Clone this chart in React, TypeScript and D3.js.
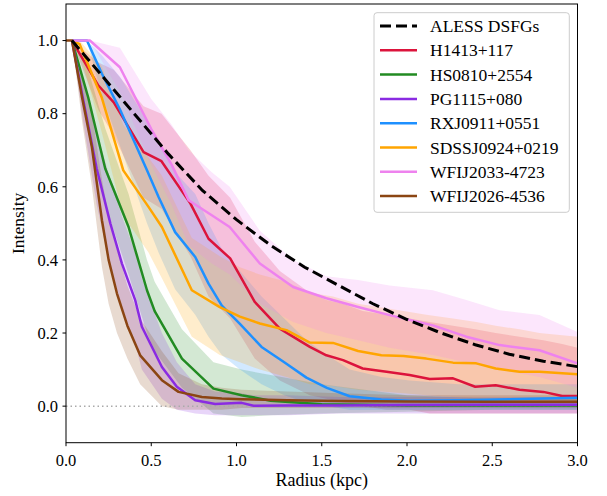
import React from "react";
import * as d3 from "d3";

const W = 607;
const H = 496;

const xTicks = [0, 0.5, 1.0, 1.5, 2.0, 2.5, 3.0];
const yTicks = [0, 0.2, 0.4, 0.6, 0.8, 1.0];

// ALESS DSFGs (stacked profile, dashed)
const alessX = [0.035, 0.2, 0.4, 0.6, 0.8, 1.0, 1.2, 1.4, 1.6, 1.8, 2.0, 2.2, 2.4, 2.6, 2.8, 3.0];
const alessY = [1.0, 0.91, 0.8, 0.69, 0.59, 0.51, 0.44, 0.38, 0.33, 0.28, 0.237, 0.2, 0.168, 0.142, 0.123, 0.108];

// H1413+117
const h1413X = [0.035, 0.19, 0.28, 0.455, 0.56, 0.73, 0.836, 0.963, 1.107, 1.254, 1.43, 1.527, 1.625, 1.74, 1.88, 2.015, 2.133, 2.27, 2.4, 2.52, 2.66, 2.8, 2.91, 3.0];
const h1413Y = [1.0, 0.877, 0.831, 0.695, 0.67, 0.554, 0.458, 0.404, 0.285, 0.212, 0.162, 0.139, 0.126, 0.103, 0.094, 0.085, 0.074, 0.076, 0.053, 0.057, 0.045, 0.039, 0.028, 0.028];
const h1413Hi = [1.0, 0.94, 0.92, 0.82, 0.8, 0.7, 0.63, 0.57, 0.45, 0.37, 0.31, 0.29, 0.28, 0.26, 0.25, 0.24, 0.23, 0.22, 0.21, 0.2, 0.19, 0.18, 0.17, 0.16];
const h1413Lo = [1.0, 0.81, 0.74, 0.57, 0.54, 0.41, 0.3, 0.24, 0.13, 0.07, 0.03, 0.02, 0.01, 0.0, -0.01, -0.01, -0.02, -0.02, -0.02, -0.02, -0.02, -0.02, -0.02, -0.02];

// HS0810+2554
const hs0810X = [0.035, 0.13, 0.23, 0.367, 0.475, 0.52, 0.68, 0.865, 1.03, 1.2, 1.5, 2.0, 2.5, 3.0];
const hs0810Y = [1.0, 0.845, 0.65, 0.49, 0.317, 0.26, 0.13, 0.048, 0.03, 0.015, 0.005, 0.002, 0.002, 0.002];
const hs0810Hi = [1.0, 0.92, 0.76, 0.58, 0.4, 0.34, 0.21, 0.12, 0.1, 0.085, 0.06, 0.03, 0.02, 0.02];
const hs0810Lo = [1.0, 0.78, 0.55, 0.36, 0.2, 0.15, 0.05, -0.02, -0.03, -0.025, -0.02, -0.015, -0.01, -0.01];

// PG1115+080
const pg1115X = [0.035, 0.1, 0.18, 0.26, 0.328, 0.406, 0.445, 0.5625, 0.65, 0.758, 0.875, 1.03, 1.1, 1.3, 1.6, 2.0, 2.5, 3.0];
const pg1115Y = [1.0, 0.84, 0.65, 0.5, 0.39, 0.29, 0.217, 0.107, 0.053, 0.016, 0.006, 0.009, 0.001, 0.002, 0.002, 0.003, 0.004, 0.004];
const pg1115Hi = [1.0, 0.9, 0.75, 0.62, 0.52, 0.42, 0.35, 0.2, 0.12, 0.06, 0.04, 0.035, 0.03, 0.03, 0.025, 0.025, 0.025, 0.025];
const pg1115Lo = [1.0, 0.78, 0.55, 0.38, 0.27, 0.17, 0.1, 0.02, -0.01, -0.02, -0.025, -0.025, -0.025, -0.025, -0.02, -0.02, -0.02, -0.02];

// RXJ0911+0551
const rxjX = [0.035, 0.123, 0.21, 0.318, 0.475, 0.543, 0.64, 0.758, 0.836, 0.914, 1.02, 1.147, 1.28, 1.41, 1.53, 1.664, 1.85, 2.015, 2.3, 2.6, 3.0];
const rxjY = [1.0, 1.0, 0.91, 0.81, 0.645, 0.572, 0.476, 0.408, 0.335, 0.275, 0.225, 0.162, 0.12, 0.078, 0.05, 0.027, 0.018, 0.015, 0.016, 0.019, 0.023];
const rxjHi = [1.0, 1.0, 0.96, 0.9, 0.78, 0.72, 0.64, 0.58, 0.5, 0.43, 0.37, 0.3, 0.24, 0.18, 0.14, 0.1, 0.08, 0.07, 0.06, 0.06, 0.06];
const rxjLo = [1.0, 1.0, 0.85, 0.71, 0.5, 0.42, 0.32, 0.25, 0.19, 0.14, 0.1, 0.06, 0.03, 0.01, 0.0, -0.01, -0.01, -0.01, -0.01, -0.01, -0.01];

// SDSSJ0924+0219
const sdssX = [0.035, 0.08, 0.209, 0.336, 0.484, 0.5625, 0.738, 0.902, 1.02, 1.137, 1.293, 1.43, 1.566, 1.713, 1.85, 1.98, 2.113, 2.27, 2.406, 2.52, 2.66, 2.777, 3.0];
const sdssY = [1.0, 0.99, 0.845, 0.645, 0.545, 0.49, 0.317, 0.271, 0.245, 0.226, 0.208, 0.174, 0.173, 0.151, 0.139, 0.137, 0.13, 0.119, 0.117, 0.103, 0.094, 0.094, 0.087];
const sdssHi = [1.0, 1.0, 0.93, 0.77, 0.68, 0.63, 0.46, 0.41, 0.38, 0.36, 0.34, 0.31, 0.3, 0.28, 0.27, 0.26, 0.25, 0.24, 0.23, 0.22, 0.21, 0.2, 0.19];
const sdssLo = [1.0, 0.97, 0.75, 0.52, 0.42, 0.35, 0.19, 0.14, 0.12, 0.1, 0.08, 0.06, 0.055, 0.045, 0.04, 0.035, 0.03, 0.025, 0.02, 0.015, 0.01, 0.01, 0.01];

// WFIJ2033-4723
const wfi2033X = [0.035, 0.14, 0.316, 0.5, 0.62, 0.719, 0.855, 0.96, 1.137, 1.332, 1.527, 1.713, 1.898, 2.152, 2.348, 2.543, 2.777, 3.0];
const wfi2033Y = [1.0, 1.0, 0.927, 0.758, 0.66, 0.563, 0.522, 0.49, 0.39, 0.326, 0.295, 0.271, 0.249, 0.221, 0.19, 0.167, 0.153, 0.117];
const wfi2033Hi = [1.0, 1.0, 0.98, 0.84, 0.77, 0.7, 0.64, 0.6, 0.48, 0.4, 0.355, 0.345, 0.33, 0.317, 0.29, 0.262, 0.249, 0.203];
const wfi2033Lo = [1.0, 1.0, 0.86, 0.66, 0.55, 0.44, 0.39, 0.36, 0.28, 0.23, 0.2, 0.18, 0.16, 0.14, 0.12, 0.1, 0.08, 0.05];

// WFIJ2026-4536
const wfi2026X = [0.0, 0.035, 0.094, 0.152, 0.211, 0.25, 0.299, 0.36, 0.435, 0.5625, 0.66, 0.797, 0.914, 1.03, 1.3, 1.6, 2.0, 2.5, 3.0];
const wfi2026Y = [1.0, 1.0, 0.845, 0.708, 0.508, 0.4, 0.308, 0.22, 0.139, 0.071, 0.039, 0.025, 0.021, 0.019, 0.016, 0.014, 0.013, 0.012, 0.012];
const wfi2026Hi = [1.0, 1.0, 0.9, 0.8, 0.62, 0.52, 0.43, 0.33, 0.24, 0.15, 0.09, 0.06, 0.05, 0.045, 0.04, 0.035, 0.03, 0.03, 0.03];
const wfi2026Lo = [1.0, 1.0, 0.78, 0.6, 0.38, 0.28, 0.2, 0.13, 0.06, 0.0, -0.01, -0.01, -0.01, -0.005, -0.005, -0.005, -0.005, -0.005, -0.005];

const sources = [
  { name: "H1413+117", color: "#DC143C", x: h1413X, y: h1413Y, lo: h1413Lo, hi: h1413Hi },
  { name: "HS0810+2554", color: "#228B22", x: hs0810X, y: hs0810Y, lo: hs0810Lo, hi: hs0810Hi },
  { name: "PG1115+080", color: "#8A2BE2", x: pg1115X, y: pg1115Y, lo: pg1115Lo, hi: pg1115Hi },
  { name: "RXJ0911+0551", color: "#1E90FF", x: rxjX, y: rxjY, lo: rxjLo, hi: rxjHi },
  { name: "SDSSJ0924+0219", color: "#FFA500", x: sdssX, y: sdssY, lo: sdssLo, hi: sdssHi },
  { name: "WFIJ2033-4723", color: "#EE82EE", x: wfi2033X, y: wfi2033Y, lo: wfi2033Lo, hi: wfi2033Hi },
  { name: "WFIJ2026-4536", color: "#8B4513", x: wfi2026X, y: wfi2026Y, lo: wfi2026Lo, hi: wfi2026Hi },
];

const FONT = "'Liberation Serif', 'DejaVu Serif', serif";

export default function App() {
  const left = 66, right = 577.5, top = 4, bottom = 442.7;
  const x = d3.scaleLinear().domain([0, 3]).range([left, right]);
  const y = d3.scaleLinear().domain([-0.1, 1.1]).range([bottom, top]);

  const line = d3.line<[number, number]>().x((d) => x(d[0])).y((d) => y(d[1]));
  const area = d3
    .area<[number, number, number]>()
    .x((d) => x(d[0]))
    .y0((d) => y(d[1]))
    .y1((d) => y(d[2]));

  const legendX = 374, legendY = 12.7, legendW = 195.3, legendH = 199.6;
  const rowH = 24.3;
  const legendItems = [{ name: "ALESS DSFGs", color: "#000", dashed: true }].concat(
    sources.map((s) => ({ name: s.name, color: s.color, dashed: false }))
  );

  return (
    <svg width={W} height={H} style={{ position: "absolute", left: 0, top: 0 }} fontFamily={FONT}>
      <rect x={0} y={0} width={W} height={H} fill="#fff" />
      <defs>
        <clipPath id="plotclip">
          <rect x={left} y={top} width={right - left} height={bottom - top} />
        </clipPath>
      </defs>
      <g clipPath="url(#plotclip)">
        {sources.map((s) => (
          <path
            key={"band-" + s.name}
            d={area(s.x.map((v, i) => [v, s.lo[i], s.hi[i]] as [number, number, number])) || ""}
            fill={s.color}
            fillOpacity={0.2}
            stroke="none"
          />
        ))}
        <line x1={x(0)} x2={x(3)} y1={y(0)} y2={y(0)} stroke="#aaaaaa" strokeWidth={1.5} strokeDasharray="1.5,3" />
        {sources.map((s) => (
          <path
            key={"line-" + s.name}
            d={line(s.x.map((v, i) => [v, s.y[i]] as [number, number])) || ""}
            fill="none"
            stroke={s.color}
            strokeWidth={2.5}
            strokeLinejoin="round"
          />
        ))}
        <path
          d={line(alessX.map((v, i) => [v, alessY[i]] as [number, number])) || ""}
          fill="none"
          stroke="#000"
          strokeWidth={3}
          strokeDasharray="11,5"
        />
      </g>
      {/* frame */}
      <rect x={left} y={top} width={right - left} height={bottom - top} fill="none" stroke="#000" strokeWidth={1} />
      {/* x ticks */}
      {xTicks.map((t) => (
        <g key={"xt" + t}>
          <line x1={x(t)} x2={x(t)} y1={bottom} y2={bottom + 3.5} stroke="#000" strokeWidth={1} />
          <text x={x(t)} y={bottom + 23} textAnchor="middle" fontSize={16.5} fill="#000">
            {t.toFixed(1)}
          </text>
        </g>
      ))}
      {/* y ticks */}
      {yTicks.map((t) => (
        <g key={"yt" + t}>
          <line x1={left - 3.5} x2={left} y1={y(t)} y2={y(t)} stroke="#000" strokeWidth={1} />
          <text x={left - 8} y={y(t)} dy="0.35em" textAnchor="end" fontSize={16.5} fill="#000">
            {t.toFixed(1)}
          </text>
        </g>
      ))}
      <text x={(left + right) / 2} y={486} textAnchor="middle" fontSize={18} fill="#000">
        Radius (kpc)
      </text>
      <text
        transform={`translate(24, ${(top + bottom) / 2}) rotate(-90)`}
        textAnchor="middle"
        fontSize={17.5}
        fill="#000"
      >
        Intensity
      </text>
      {/* legend */}
      <rect
        x={legendX}
        y={legendY}
        width={legendW}
        height={legendH}
        rx={3}
        fill="#fff"
        fillOpacity={0.8}
        stroke="#cccccc"
        strokeWidth={1}
      />
      {legendItems.map((it, i) => {
        const cy = 26 + i * rowH;
        return (
          <g key={"lg" + it.name}>
            <line
              x1={380}
              x2={417}
              y1={cy}
              y2={cy}
              stroke={it.color}
              strokeWidth={it.dashed ? 3 : 2.5}
              strokeDasharray={it.dashed ? "11,5" : undefined}
            />
            <text x={430} y={cy} dy="0.35em" fontSize={17.5} fill="#000">
              {it.name}
            </text>
          </g>
        );
      })}
    </svg>
  );
}
